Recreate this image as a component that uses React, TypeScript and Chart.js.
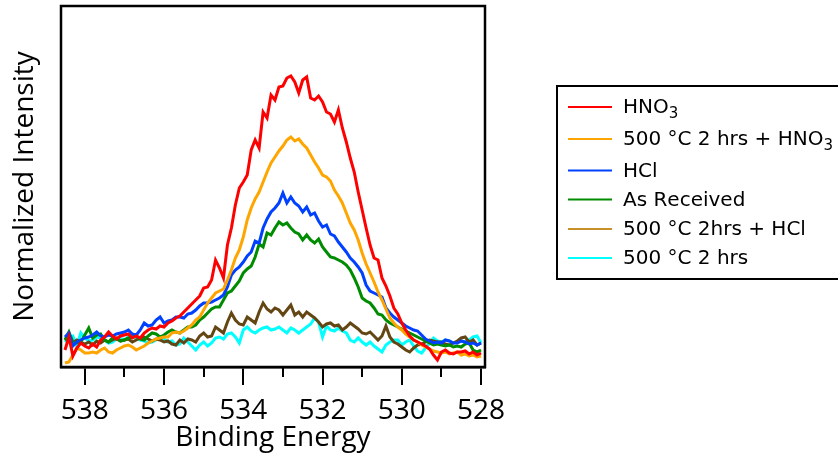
import React, { useEffect, useRef } from 'react';
import { Chart, registerables } from 'chart.js';

Chart.register(...registerables);

// Binding energy (eV) sampling of the spectra
const bindingEnergy = [
  538.5, 538.4, 538.3, 538.2, 538.1, 538.0, 537.9, 537.8, 537.7, 537.6,
  537.5, 537.4, 537.3, 537.2, 537.1, 537.0, 536.9, 536.8, 536.7, 536.6,
  536.5, 536.4, 536.3, 536.2, 536.1, 536.0, 535.9, 535.8, 535.7, 535.6,
  535.5, 535.4, 535.3, 535.2, 535.1, 535.0, 534.9, 534.8, 534.7, 534.6,
  534.5, 534.4, 534.3, 534.2, 534.1, 534.0, 533.9, 533.8, 533.7, 533.6,
  533.5, 533.4, 533.3, 533.2, 533.1, 533.0, 532.9, 532.8, 532.7, 532.6,
  532.5, 532.4, 532.3, 532.2, 532.1, 532.0, 531.9, 531.8, 531.7, 531.6,
  531.5, 531.4, 531.3, 531.2, 531.1, 531.0, 530.9, 530.8, 530.7, 530.6,
  530.5, 530.4, 530.3, 530.2, 530.1, 530.0, 529.9, 529.8, 529.7, 529.6,
  529.5, 529.4, 529.3, 529.2, 529.1, 529.0, 528.9, 528.8, 528.7, 528.6,
  528.5, 528.4, 528.3, 528.2, 528.1, 528.0,
];

const hno3 = [
  17, 30, 11, 19, 24, 21, 19, 23, 20, 27,
  30, 35, 31, 28, 31, 32, 33, 29, 31, 29,
  34, 37, 39, 38, 41, 40, 44, 46, 49, 51,
  55, 59, 63, 67, 71, 79, 80, 87, 107, 99,
  89, 122, 139, 162, 179, 185, 192, 217, 227, 219,
  255, 249, 272, 267, 280, 281, 289, 291, 285, 274,
  287, 290, 269, 267, 271, 265, 255, 253, 245, 257,
  239, 225, 209, 195, 175, 157, 139, 122, 109, 107,
  89, 81, 71, 59, 53, 44, 37, 31, 27, 25,
  23, 21, 18, 12, 7, 15, 17, 14, 13, 15,
  15, 16, 13, 15, 12, 14,
];

const annealedHno3 = [
  4, 5, 12, 19, 17, 14, 14, 15, 14, 17,
  19, 15, 14, 17, 19, 21, 22, 20, 17, 19,
  21, 24, 26, 28, 29, 30, 30, 34, 35, 34,
  36, 39, 42, 47, 50, 57, 64, 69, 74, 76,
  78, 87, 97, 109, 117, 130, 147, 159, 168, 175,
  185, 195, 204, 210, 216, 221, 227, 230, 226, 228,
  223, 219, 212, 205, 199, 192, 190, 186, 177, 171,
  164, 154, 144, 137, 127, 114, 103, 94, 85, 75,
  67, 58, 49, 44, 40, 37, 33, 30, 27, 25,
  22, 20, 18, 16, 15, 14, 15, 13, 14, 15,
  12, 13, 11, 12, 10, 11,
];

const hcl = [
  30, 34, 21, 25, 27, 29, 30, 32, 35, 31,
  30, 32, 31, 33, 34, 35, 37, 33, 32, 37,
  44, 41, 42, 47, 50, 44, 46, 47, 50, 50,
  49, 53, 54, 57, 61, 64, 64, 65, 67, 69,
  72, 80, 92, 97, 100, 105, 111, 115, 126, 124,
  139, 148, 155, 159, 164, 174, 164, 170, 164, 161,
  155, 160, 152, 154, 146, 140, 142, 133, 131, 125,
  120, 115, 109, 105, 100, 94, 82, 76, 74, 72,
  70, 59, 54, 50, 47, 44, 41, 39, 37, 36,
  32, 28, 26, 24, 25, 24, 27, 26, 24, 24,
  26, 25, 23, 24, 22, 24,
];

const asReceived = [
  27, 35, 25, 24, 25, 32, 39, 29, 32, 33,
  27, 25, 29, 28, 26, 27, 29, 30, 31, 28,
  27, 31, 34, 33, 30, 32, 35, 37, 35, 34,
  37, 40, 40, 42, 47, 50, 54, 58, 60, 60,
  67, 74, 76, 81, 86, 94, 98, 101, 110, 123,
  120, 134, 132, 139, 145, 142, 144, 139, 135, 133,
  127, 132, 127, 124, 128, 120, 115, 110, 109, 107,
  105, 102, 97, 89, 80, 69, 66, 64, 59, 53,
  52, 47, 44, 42, 40, 38, 36, 34, 32, 30,
  28, 26, 24, 22, 23, 22, 21, 22, 20, 21,
  20, 23, 24, 17, 15, 17,
];

const annealedHcl = [
  27, 29, 24, 27, 25, 23, 25, 22, 26, 24,
  27, 25, 27, 29, 26, 27, 28, 25, 27, 29,
  30, 28, 26, 28, 27, 25, 26, 23, 22, 27,
  24, 28, 27, 25, 31, 34, 30, 31, 40, 37,
  34, 45, 54, 47, 43, 42, 50, 47, 44, 55,
  64, 58, 55, 59, 57, 52, 57, 62, 52, 55,
  50, 55, 52, 49, 45, 40, 43, 44, 41, 42,
  37, 40, 44, 41, 38, 34, 33, 35, 31, 27,
  31, 41, 30, 25, 23, 20, 17, 15, 19, 22,
  23, 25, 27, 26, 25, 25, 23, 22, 24, 26,
  29, 30, 25, 27, 22, 24,
];

const annealed = [
  25, 29, 31, 21, 34, 29, 26, 27, 30, 29,
  27, 24, 25, 28, 29, 27, 30, 31, 29, 27,
  26, 24, 25, 27, 29, 28, 25, 26, 22, 23,
  29, 25, 21, 17, 22, 25, 21, 24, 29, 30,
  28, 33, 34, 30, 24, 37, 40, 36, 34, 37,
  39, 40, 37, 38, 40, 37, 34, 39, 37, 34,
  37, 40, 43, 49, 45, 30, 41, 37, 36, 39,
  36, 34, 27, 25, 29, 25, 22, 25, 21, 18,
  15, 22, 25, 27, 27, 22, 25, 27, 21, 16,
  14, 19, 24, 29, 26, 25, 27, 26, 24, 25,
  26, 25, 27, 30, 31, 24,
];

const seriesLabels = [
  'HNO₃',
  '500 °C 2 hrs + HNO₃',
  'HCl',
  'As Received',
  '500 °C 2hrs + HCl',
  '500 °C 2 hrs',
];
const seriesValues = [hno3, annealedHno3, hcl, asReceived, annealedHcl, annealed];
const lineColors = ['#FF0000', '#FFA500', '#0040FF', '#008C00', '#634613', '#00FFFF'];
const legendColors = ['#FF0000', '#FFA500', '#0040FF', '#008C00', '#C8902A', '#00FFFF'];

const majorTicks = [538, 536, 534, 532, 530, 528];
const minorTicks = [537, 535, 533, 531, 529];

const AXIS_FONT = '"Open Sans", "Liberation Sans", sans-serif';
const LEGEND_FONT = '"DejaVu Sans", sans-serif';

const framePlugin = {
  id: 'frameAndMinorTicks',
  afterDatasetsDraw(chart: any) {
    const { ctx, chartArea } = chart;
    const xScale = chart.scales.x;
    ctx.save();
    ctx.strokeStyle = '#000';
    ctx.lineWidth = 2.5;
    ctx.strokeRect(chartArea.left, chartArea.top, chartArea.right - chartArea.left, chartArea.bottom - chartArea.top);
    ctx.lineWidth = 2;
    for (const v of minorTicks) {
      const px = Math.round(xScale.getPixelForValue(v));
      ctx.beginPath();
      ctx.moveTo(px, chartArea.bottom);
      ctx.lineTo(px, chartArea.bottom + 10);
      ctx.stroke();
    }
    ctx.restore();
  },
};

function drawRichText(ctx: any, text: string, x: number, y: number, size: number) {
  let cx = x;
  for (const ch of text) {
    if (ch === '₃') {
      ctx.font = `${Math.round(size * 0.75)}px ${LEGEND_FONT}`;
      ctx.fillText('3', cx, y + size * 0.32);
      cx += ctx.measureText('3').width;
    } else {
      ctx.font = `${size}px ${LEGEND_FONT}`;
      ctx.fillText(ch, cx, y);
      cx += ctx.measureText(ch).width;
    }
  }
}

const legendPlugin = {
  id: 'boxLegend',
  afterDraw(chart: any) {
    const { ctx } = chart;
    const rowY = [107, 139, 170.5, 199.5, 229, 258];
    ctx.save();
    ctx.strokeStyle = '#000';
    ctx.lineWidth = 2;
    ctx.strokeRect(557, 86, 300, 193);
    ctx.textBaseline = 'middle';
    ctx.textAlign = 'left';
    chart.data.datasets.forEach((ds: any, i: number) => {
      const y = rowY[i];
      ctx.strokeStyle = legendColors[i];
      ctx.lineWidth = 2;
      ctx.beginPath();
      ctx.moveTo(568, y);
      ctx.lineTo(612, y);
      ctx.stroke();
      ctx.fillStyle = '#000';
      drawRichText(ctx, ds.label, 623, y + 1, 20);
    });
    ctx.restore();
  },
};

export default function App() {
  const canvasRef = useRef<HTMLCanvasElement | null>(null);

  useEffect(() => {
    const canvas = canvasRef.current;
    if (!canvas) return;
    const chart = new Chart(canvas, {
      type: 'line',
      data: {
        datasets: seriesValues.map((vals, i) => ({
          label: seriesLabels[i],
          data: vals.map((v, j) => ({ x: bindingEnergy[j], y: v })),
          borderColor: lineColors[i],
          backgroundColor: lineColors[i],
          borderWidth: 3,
          pointRadius: 0,
          tension: 0,
          fill: false,
        })),
      },
      options: {
        responsive: false,
        animation: false,
        events: [],
        layout: { padding: { top: 6, right: 353, bottom: 0, left: 0 } },
        plugins: {
          legend: { display: false },
          tooltip: { enabled: false },
          title: { display: false },
        },
        scales: {
          x: {
            type: 'linear',
            reverse: true,
            min: 527.9,
            max: 538.6,
            afterBuildTicks: (scale: any) => {
              scale.ticks = majorTicks.map((v) => ({ value: v }));
            },
            afterFit: (scale: any) => {
              scale.height = 92;
            },
            grid: {
              display: true,
              drawOnChartArea: false,
              drawTicks: true,
              tickLength: 18,
              color: '#000',
              lineWidth: 2,
            },
            border: { display: true, color: '#000', width: 2.5 },
            ticks: {
              autoSkip: false,
              maxRotation: 0,
              padding: 9,
              color: '#000',
              font: { family: AXIS_FONT, size: 28 },
              callback: (v: any) => String(v),
            },
            title: {
              display: true,
              text: 'Binding Energy',
              color: '#000',
              font: { family: AXIS_FONT, size: 28 },
              padding: { top: 0, bottom: 4 },
            },
          },
          y: {
            type: 'linear',
            min: 0,
            max: 361,
            afterFit: (scale: any) => {
              scale.width = 61;
            },
            grid: { display: false, drawTicks: false },
            border: { display: false },
            ticks: { display: false },
            title: {
              display: true,
              text: 'Normalized Intensity',
              color: '#000',
              font: { family: AXIS_FONT, size: 28 },
              padding: { top: 8, bottom: 0 },
            },
          },
        },
      },
      plugins: [framePlugin, legendPlugin],
    } as any);
    return () => chart.destroy();
  }, []);

  return (
    <div style={{ position: 'absolute', left: 0, top: 0, width: 838, height: 459, background: '#fff' }}>
      <canvas ref={canvasRef} width={838} height={459} style={{ display: 'block', width: 838, height: 459 }} />
    </div>
  );
}
